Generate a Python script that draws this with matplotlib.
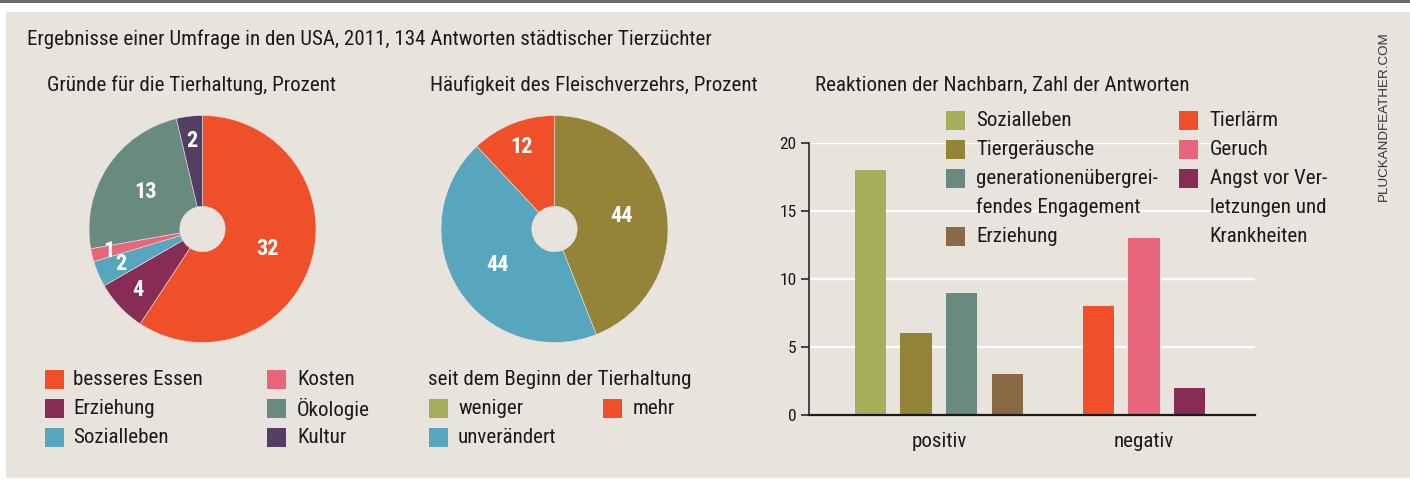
import math
import matplotlib
matplotlib.use("Agg")
import matplotlib.pyplot as plt
from matplotlib.patches import Rectangle
from matplotlib.transforms import Affine2D
from matplotlib import font_manager

# ---- data ----
reasons = ["besseres Essen", "Erziehung", "Sozialleben", "Kosten", "Ökologie", "Kultur"]
reason_values = [32, 4, 2, 1, 13, 2]
reason_colors = ["#f05029", "#862c55", "#58a6bd", "#e8667c", "#688a7f", "#523f63"]

meat_labels = ["weniger", "unverändert", "mehr"]
meat_values = [44, 44, 12]
meat_colors = ["#938438", "#58a6bd", "#f05029"]
meat_legend_colors = ["#a5ae5a", "#58a6bd", "#f05029"]

pos_labels = ["Sozialleben", "Tiergeräusche", "generationenübergrei-\nfendes Engagement", "Erziehung"]
pos_values = [18, 6, 9, 3]
pos_colors = ["#a5ae5a", "#938438", "#688a7f", "#8a6a45"]

neg_labels = ["Tierlärm", "Geruch", "Angst vor Ver-\nletzungen und\nKrankheiten"]
neg_values = [8, 13, 2]
neg_colors = ["#f05029", "#e8667c", "#862c55"]

groups = ["positiv", "negativ"]
y_ticks = [0, 5, 10, 15, 20]

title = "Ergebnisse einer Umfrage in den USA, 2011, 134 Antworten städtischer Tierzüchter"

# ---- fonts: prefer a narrow sans if one is installed ----
available = {f.name for f in font_manager.fontManager.ttflist}
candidates = ["Liberation Sans Narrow", "Roboto Condensed", "Open Sans Condensed",
              "Noto Sans Condensed", "Roboto", "DejaVu Sans"]
main_font = next(c for c in candidates if c in available or c == "DejaVu Sans")
plt.rcParams["font.family"] = [main_font, "DejaVu Sans"]

W, H = 1410, 488
BG = "#e9e3de"
TXT = "#1a1a1a"
fig = plt.figure(figsize=(W / 100, H / 100), dpi=100)
fig.patch.set_facecolor("white")
P = Affine2D().scale(1, -1).translate(0, H)  # pixel coords, origin top-left


def frac_box(x0, y0, x1, y1):
    return [x0 / W, 1 - y1 / H, (x1 - x0) / W, (y1 - y0) / H]


# background panel and top rule
fig.add_artist(Rectangle((6, 12), W - 6, 466, transform=P, facecolor=BG, edgecolor="none", zorder=0))
fig.add_artist(Rectangle((0, 0), W, 2.5, transform=P, facecolor="#6a6a6a", edgecolor="none", zorder=0))

# size the text so the headline spans its intended width
renderer = fig.canvas.get_renderer()
t_title = fig.text(27, 39, title, transform=P, fontsize=14, color=TXT, va="center", ha="left")
scale = 689.0 / t_title.get_window_extent(renderer).width
FS = 14 * scale
t_title.set_fontsize(FS)

fig.text(47, 85, "Gründe für die Tierhaltung, Prozent", transform=P, fontsize=FS, color=TXT, va="center")
fig.text(430, 85, "Häufigkeit des Fleischverzehrs, Prozent", transform=P, fontsize=FS, color=TXT, va="center")
fig.text(815, 85, "Reaktionen der Nachbarn, Zahl der Antworten", transform=P, fontsize=FS, color=TXT, va="center")
fig.text(1384, 116, "PLUCKANDFEATHER.COM", transform=P, fontsize=9.6, color="#333333",
         rotation=90, va="center", ha="center", family=["Liberation Sans", "DejaVu Sans"])


def donut(cx, cy, r, values, colors):
    ax = fig.add_axes(frac_box(cx - r, cy - r, cx + r, cy + r))
    wedges, _ = ax.pie(values, colors=colors, startangle=90, counterclock=False,
                       wedgeprops=dict(width=0.8, edgecolor=BG, linewidth=0.4))
    total = sum(values)
    for w, v in zip(wedges, values):
        mid = math.radians((w.theta1 + w.theta2) / 2)
        share = v / total
        rr = 0.6 if share > 0.2 else (0.85 if share < 0.025 else 0.78)
        ax.text(rr * math.cos(mid), rr * math.sin(mid), str(v), ha="center", va="center",
                color="white", fontsize=16, fontweight="bold")
    ax.set_xlim(-1, 1)
    ax.set_ylim(-1, 1)
    ax.set_aspect("equal")
    ax.axis("off")
    return ax


donut(202.5, 229, 113.5, reason_values, reason_colors)
donut(554.5, 229, 113.5, meat_values, meat_colors)


def legend_item(x, y, color, label, tx):
    fig.add_artist(Rectangle((x, y - 9.5), 19, 19, transform=P, facecolor=color, edgecolor="none"))
    fig.text(tx, y, label, transform=P, fontsize=FS, color=TXT, va="center", ha="left")


rows = [379.5, 408.5, 437.5]
for y, i in zip(rows, [0, 1, 2]):
    legend_item(44.5, y, reason_colors[i], reasons[i], 73)
for y, i in zip(rows, [3, 4, 5]):
    legend_item(267, y, reason_colors[i], reasons[i], 297)

fig.text(428.5, 379.5, "seit dem Beginn der Tierhaltung", transform=P, fontsize=FS, color=TXT, va="center")
legend_item(428.5, 408.5, meat_legend_colors[0], meat_labels[0], 458)
legend_item(428.5, 437.5, meat_legend_colors[1], meat_labels[1], 458)
legend_item(603, 408.5, meat_legend_colors[2], meat_labels[2], 632.5)

# ---- bar chart ----
x0, x1 = 809.3, 1255.4
y0, y20 = 415, 143
ax = fig.add_axes(frac_box(x0, y20, x1, y0))
ax.set_facecolor("none")
pos_x = list(range(len(pos_values)))
neg_x = [len(pos_values) + 1 + i for i in range(len(neg_values))]
ax.bar(pos_x, pos_values, width=0.686, color=pos_colors, zorder=2)
ax.bar(neg_x, neg_values, width=0.686, color=neg_colors, zorder=2)
ax.set_xlim(-1.34, 8.44)
ax.set_ylim(0, 20)
ax.set_yticks(y_ticks)
ax.set_yticklabels([str(t) for t in y_ticks], fontsize=12.5, color=TXT)
for t in y_ticks[1:]:
    ax.axhline(t, color="white", lw=1.6, zorder=1)
ax.set_xticks([sum(pos_x) / len(pos_x), sum(neg_x) / len(neg_x)])
ax.set_xticklabels(groups, fontsize=FS, color=TXT)
ax.tick_params(axis="x", length=0, pad=12)
ax.tick_params(axis="y", length=6, width=1.1, color=TXT, pad=3)
for s in ["top", "right"]:
    ax.spines[s].set_visible(False)
for s, lw in [("left", 1.1), ("bottom", 1.6)]:
    ax.spines[s].set_color(TXT)
    ax.spines[s].set_linewidth(lw)
    ax.spines[s].set_zorder(3)

# bar legend
LH = 29
for labels, colors, sx, tx in [(pos_labels, pos_colors, 946.3, 976.4),
                               (neg_labels, neg_colors, 1179.4, 1209.5)]:
    y = 120.5
    for lab, col in zip(labels, colors):
        lines = lab.split("\n")
        fig.add_artist(Rectangle((sx, y - 9.5), 19, 19, transform=P, facecolor=col, edgecolor="none"))
        for k, line in enumerate(lines):
            fig.text(tx, y + k * LH, line, transform=P, fontsize=FS, color=TXT, va="center")
        y += len(lines) * LH

fig.savefig("out.png", dpi=100, facecolor=fig.get_facecolor())
